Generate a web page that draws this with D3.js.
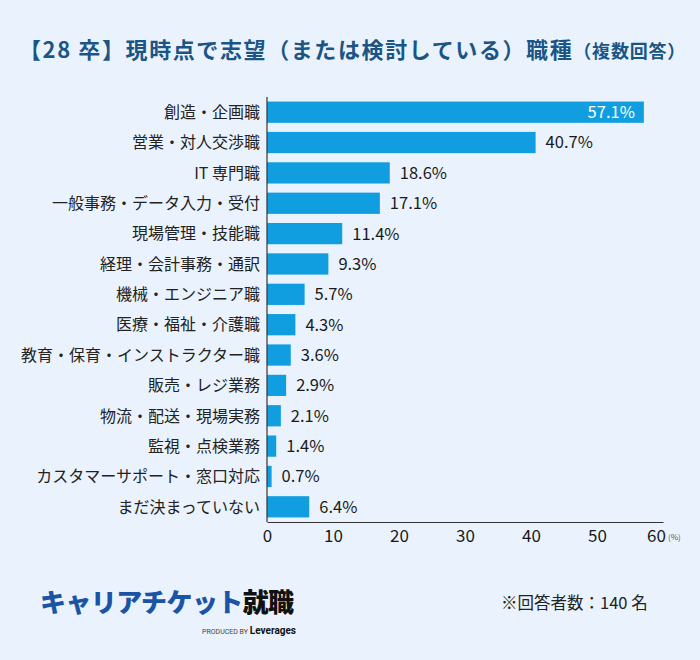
<!DOCTYPE html>
<html>
<head>
<meta charset="utf-8">
<script src="https://cdn.jsdelivr.net/npm/d3@7"></script>
<style>
  body { margin: 0; background: #eaf3fd; }
  svg { display: block; font-family: "Noto Sans CJK JP", "Noto Sans", sans-serif; }
</style>
</head>
<body>
<div id="chart"></div>
<script>
// data
var categories = [
  "創造・企画職",
  "営業・対人交渉職",
  "IT 専門職",
  "一般事務・データ入力・受付",
  "現場管理・技能職",
  "経理・会計事務・通訳",
  "機械・エンジニア職",
  "医療・福祉・介護職",
  "教育・保育・インストラクター職",
  "販売・レジ業務",
  "物流・配送・現場実務",
  "監視・点検業務",
  "カスタマーサポート・窓口対応",
  "まだ決まっていない"
];
var values = [57.1, 40.7, 18.6, 17.1, 11.4, 9.3, 5.7, 4.3, 3.6, 2.9, 2.1, 1.4, 0.7, 6.4];
var xTicks = [0, 10, 20, 30, 40, 50, 60];

var svgWidth = 700;
var svgHeight = 660;

var margin = { top: 97, left: 267 };
var plotW = 396;
var plotH = 425;

var svg = d3.select("#chart")
  .append("svg")
  .attr("width", svgWidth)
  .attr("height", svgHeight);

svg.append("rect")
  .attr("width", svgWidth)
  .attr("height", svgHeight)
  .attr("fill", "#eaf3fd");

// title
var title = svg.append("text")
  .attr("x", 19)
  .attr("y", 58)
  .attr("fill", "#1b5585")
  .attr("font-weight", "bold");
title.append("tspan").attr("font-size", 22).attr("letter-spacing", 1.6)
  .text("【28 卒】現時点で志望（または検討している）職種");
title.append("tspan").attr("font-size", 18).attr("letter-spacing", 0.8).text("（複数回答）");

var chartGroup = svg.append("g")
  .attr("transform", `translate(${margin.left}, ${margin.top})`);

var xScale = d3.scaleLinear()
  .domain([0, 60])
  .range([0, plotW]);

var yScale = d3.scaleBand()
  .domain(categories)
  .range([0, plotH])
  .paddingInner(0.3)
  .paddingOuter(0.15);

// bars
chartGroup.selectAll("rect.bar")
  .data(values)
  .enter()
  .append("rect")
  .attr("class", "bar")
  .attr("x", 0)
  .attr("y", (d, i) => yScale(categories[i]))
  .attr("width", d => xScale(d))
  .attr("height", yScale.bandwidth())
  .attr("fill", "#109ee0");

// value labels
chartGroup.selectAll("text.val")
  .data(values)
  .enter()
  .append("text")
  .attr("class", "val")
  .attr("x", (d, i) => i === 0 ? xScale(d) - 9 : xScale(d) + 10)
  .attr("y", (d, i) => yScale(categories[i]) + yScale.bandwidth() / 2)
  .attr("dy", "0.36em")
  .attr("text-anchor", (d, i) => i === 0 ? "end" : "start")
  .attr("font-size", 16.5)
  .attr("fill", (d, i) => i === 0 ? "#ffffff" : "#1a1a1a")
  .text(d => d.toFixed(1) + "%");

// category labels
chartGroup.selectAll("text.cat")
  .data(categories)
  .enter()
  .append("text")
  .attr("class", "cat")
  .attr("x", -7)
  .attr("y", d => yScale(d) + yScale.bandwidth() / 2)
  .attr("dy", "0.36em")
  .attr("text-anchor", "end")
  .attr("font-size", 16)
  .attr("fill", "#222")
  .text(d => d);

// axes
var xAxis = d3.axisBottom(xScale).tickValues(xTicks).tickSize(0).tickPadding(8);
var gx = chartGroup.append("g")
  .attr("transform", `translate(0, ${plotH})`)
  .call(xAxis);
gx.select(".domain").attr("stroke", "#333").attr("stroke-width", 1.2);
gx.selectAll("text")
  .attr("font-size", 17)
  .attr("fill", "#1a1a1a")
  .attr("font-family", "\"Noto Sans CJK JP\", \"Noto Sans\", sans-serif")
  .attr("dx", d => d === 60 ? -7 : 0);

chartGroup.append("line")
  .attr("x1", 0).attr("x2", 0)
  .attr("y1", 0).attr("y2", plotH)
  .attr("stroke", "#333")
  .attr("stroke-width", 1.2);

chartGroup.append("text")
  .attr("x", xScale(60) + 5)
  .attr("y", plotH + 18)
  .attr("font-size", 8)
  .attr("fill", "#555")
  .text("(%)");

// footer logo
var logo = svg.append("text")
  .attr("x", 40)
  .attr("y", 612)
  .attr("font-size", 26)
  .attr("font-weight", 900)
  .attr("letter-spacing", -0.6);
logo.append("tspan").attr("fill", "#1c54a5").text("キャリアチケット");
logo.append("tspan").attr("fill", "#111").text("就職");

var prod = svg.append("text")
  .attr("x", 296)
  .attr("y", 634)
  .attr("text-anchor", "end")
  .attr("font-family", "Roboto, sans-serif");
prod.append("tspan").attr("font-size", 7).attr("fill", "#444").text("PRODUCED BY ");
prod.append("tspan").attr("font-size", 10).attr("font-weight", "bold").attr("fill", "#111").text("Leverages");

svg.append("text")
  .attr("x", 501)
  .attr("y", 609)
  .attr("font-size", 16.5)
  .attr("fill", "#222")
  .text("※回答者数：140 名");
</script>
</body>
</html>
